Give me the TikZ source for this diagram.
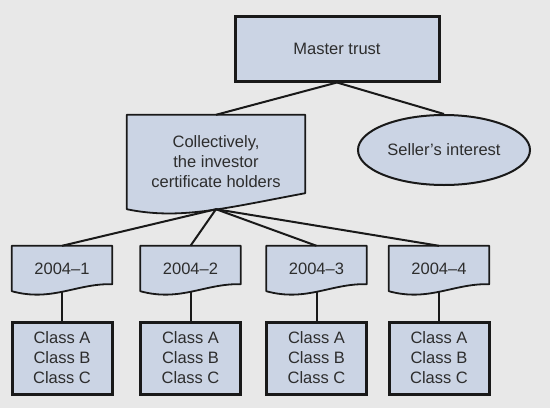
\documentclass[tikz,border=0pt]{standalone}
\usepackage{fontspec}
\setmainfont{Liberation Sans}
\usetikzlibrary{shapes.geometric,calc}
\definecolor{bgc}{RGB}{232,232,232}
\definecolor{boxc}{RGB}{203,212,228}
\definecolor{inkc}{RGB}{25,25,25}
\definecolor{txtc}{RGB}{45,45,45}
\pgfdeclarelayer{bg}
\pgfsetlayers{bg,main}
\newcommand\docpath[4]{%
  \begin{pgfonlayer}{bg}
  \draw[docline] (#1.north west) -- (#1.north east) -- ($(#1.south east)+(0,-#4)$)
    .. controls ($(#1.south west)+#3$) and ($(#1.south west)+#2$) .. (#1.south west) -- cycle;
  \end{pgfonlayer}}
\tikzset{
  every node/.style={font=\fontsize{16.5}{20}\selectfont, text=txtc, align=center, inner sep=0pt},
  thickbox/.style={rectangle, draw=inkc, fill=boxc, line width=3pt},
  docline/.style={draw=inkc, fill=boxc, line width=1.8pt, line join=round},
  docnode/.style={rectangle, minimum width=100, minimum height=45},
  classbox/.style={thickbox, minimum width=100, minimum height=72},
  seller/.style={ellipse, draw=inkc, fill=boxc, line width=2pt, minimum width=172, minimum height=70},
  conn/.style={draw=inkc, line width=2pt},
}
\begin{document}
\begin{tikzpicture}[x=1pt, y=-1pt]
\begin{pgfonlayer}{bg}
\fill[bgc] (0,0) rectangle (550,408);
\end{pgfonlayer}
\useasboundingbox (0,0) rectangle (550,408);

\node[thickbox, minimum width=204, minimum height=65] (mt) at (337,48.5) {Master trust};

\node[rectangle, minimum width=178, minimum height=94] (doc) at (216,162)
  {Collectively,\\the investor\\certificate holders};
\docpath{doc}{(53,11)}{(98,-1)}{16}

\node[seller] (sel) at (444,150) {Seller’s interest};

\foreach \i/\x in {1/62, 2/190.5, 3/316.5, 4/439}{
  \node[docnode] (d\i) at (\x,268.5) {2004–\i};
  \docpath{d\i}{(40,11)}{(65,-8)}{7}
  \node[classbox] (c\i) at (\x,358) {Class A\\Class B\\Class C};
}

\begin{pgfonlayer}{bg}
\draw[conn] (mt.south) -- (doc.north);
\draw[conn] (mt.south) -- (sel.north);
\foreach \i in {1,...,4}{
  \draw[conn] (doc.south) -- (d\i.north);
  \draw[conn] (d\i.south) -- (c\i.north);
}
\end{pgfonlayer}
\end{tikzpicture}
\end{document}
